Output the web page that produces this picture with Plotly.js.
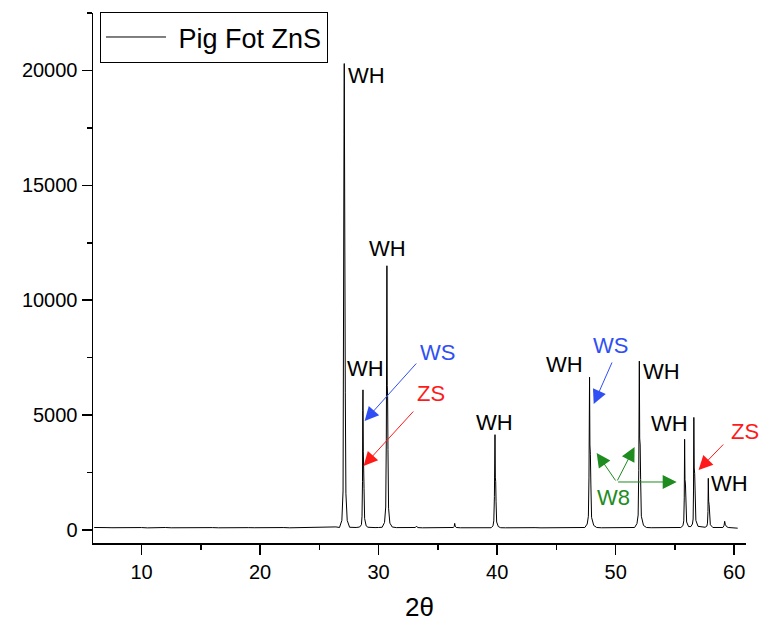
<!DOCTYPE html>
<html>
<head>
<meta charset="utf-8">
<script src="https://cdn.plot.ly/plotly-3.0.1.min.js"></script>
<style>html,body{margin:0;padding:0;background:#fff;}#chart{width:768px;height:627px;}</style>
</head>
<body>
<div id="chart"></div>
<script>
// 2-theta positions (degrees)
const twoTheta = [
  6.0,6.5,7.0,7.5,8.0,8.5,9.0,9.5,10.0,10.5,11.0,11.5,12.0,12.5,13.0,13.5,14.0,14.5,15.0,15.5,
  16.0,16.5,17.0,17.5,18.0,18.5,19.0,19.5,20.0,20.5,21.0,21.5,22.0,22.5,23.0,23.5,24.0,24.5,25.0,25.5,
  26.0,26.4,
  26.7,26.9,27.0,27.05,27.08,27.1,27.13,27.16,27.19,27.24,27.35,27.55,
  27.8,28.1,
  28.4,28.55,28.6,28.64,28.66,28.68,28.71,28.74,28.77,28.82,28.95,29.1,
  29.4,29.7,30.0,
  30.3,30.5,30.6,30.65,30.68,30.7,30.73,30.76,30.79,30.84,30.95,31.15,
  31.5,32.0,32.5,33.1,33.2,33.3,33.7,34.2,34.7,35.2,35.7,36.1,
  36.3,36.38,36.42,36.46,36.55,
  36.9,37.4,37.9,38.4,38.9,39.3,
  39.5,39.65,39.72,39.77,39.8,39.82,39.85,39.88,39.91,39.96,40.1,40.3,
  40.7,41.2,41.7,42.2,42.7,43.2,43.7,44.2,44.7,45.2,45.7,46.2,46.7,47.1,
  47.4,47.6,47.7,47.75,47.78,47.8,47.83,47.87,47.91,47.97,48.15,48.4,
  48.8,49.3,49.8,50.3,50.8,51.2,
  51.6,51.8,51.9,51.95,51.98,52.0,52.03,52.07,52.11,52.17,52.35,52.6,
  53.0,53.5,54.0,54.5,55.0,55.3,
  55.5,55.68,55.75,55.79,55.81,55.82,55.85,55.89,55.93,55.99,56.15,
  56.35,56.48,56.54,56.57,56.59,56.6,56.63,56.67,56.71,56.77,56.95,57.3,
  57.55,57.7,57.75,57.79,57.81,57.82,57.85,57.89,57.93,57.99,58.2,58.6,
  59.05,59.15,59.2,59.25,59.35,59.5,59.8,60.1,60.3
];
// Intensity (counts)
const intensity = [
  110,95,105,100,108,96,104,99,107,94,103,100,109,97,102,95,106,99,104,98,
  105,96,103,99,108,95,104,100,106,97,103,98,107,96,104,100,108,102,110,115,
  120,135,
  110,420,1700,7100,17200,20300,11200,10100,6000,1600,420,120,
  105,110,
  130,230,600,2100,5200,6100,3400,3000,1800,500,180,120,
  100,106,110,
  120,330,1000,4000,9800,11500,6300,5800,3500,950,300,130,
  105,98,104,110,170,105,96,102,95,100,97,104,
  110,150,290,170,110,
  98,103,95,101,97,104,
  100,180,400,1450,3500,4150,2300,2100,1250,350,150,100,
  96,102,94,100,97,103,95,99,96,101,97,103,100,108,
  110,260,600,2300,5600,6650,3700,3300,2000,550,200,110,
  98,102,96,104,99,105,
  110,280,650,2600,6200,7350,4000,3700,2200,600,200,110,
  100,97,103,98,104,110,
  110,190,400,1400,3300,3950,2200,2000,1200,350,150,
  150,260,480,1700,4100,4900,2700,2450,1500,420,160,130,
  120,170,300,800,1900,2250,1250,1100,700,230,110,100,
  110,200,380,250,150,110,90,85,80
];

const peakLabelX = [29.0, 30.76, 28.9, 39.79, 45.7, 53.88, 54.55, 59.6];
const peakLabelY = [19802, 12230, 7008, 4701, 7182, 6877, 4614, 2003];
const peakLabelText = ['WH','WH','WH','WH','WH','WH','WH','WH'];

const FONT = 'Liberation Sans, Arial, sans-serif';
const BLUE = '#2f4ff5';
const RED = '#ff1a1a';
const GREEN = '#1e8c1e';

const annotations = [];
for (let i = 0; i < peakLabelText.length; i++) {
  annotations.push({x: peakLabelX[i], y: peakLabelY[i], xref: 'x', yref: 'y', text: peakLabelText[i],
    showarrow: false, font: {family: FONT, size: 22, color: '#000'}});
}
function label(x, y, t, c) {
  annotations.push({x: x, y: y, xref: 'x', yref: 'y', text: t, showarrow: false,
    font: {family: FONT, size: 22, color: c}});
}
function arrow(hx, hy, tx, ty, c) {
  annotations.push({x: hx, y: hy, xref: 'x', yref: 'y', ax: tx, ay: ty, axref: 'x', ayref: 'y',
    text: '', showarrow: true, arrowhead: 2, arrowsize: 2.8, arrowwidth: 1, arrowcolor: c, standoff: 0, startstandoff: 0});
}
label(34.98, 7704, 'WS', BLUE);
arrow(28.82, 4744, 33.29, 7312, BLUE);
label(34.39, 5963, 'ZS', RED);
arrow(28.73, 2786, 33.04, 5223, RED);
label(49.58, 8009, 'WS', BLUE);
arrow(48.15, 5484, 49.75, 7356, BLUE);
label(60.89, 4266, 'ZS', RED);
arrow(57.0, 2612, 59.2, 3787, RED);
label(49.83, 1437, 'W8', GREEN);
arrow(48.4, 3352, 50.08, 2090, GREEN);
arrow(51.6, 3613, 50.08, 2090, GREEN);
arrow(55.15, 2090, 50.08, 2090, GREEN);

const trace = {
  x: twoTheta, y: intensity, type: 'scatter', mode: 'lines', name: '\u00a0Pig Fot ZnS',
  line: {color: '#000', width: 1}
};

const layout = {
  width: 768, height: 627,
  margin: {l: 93, r: 22, t: 13, b: 84},
  paper_bgcolor: '#fff', plot_bgcolor: '#fff',
  font: {family: FONT, color: '#000', size: 20},
  showlegend: true,
  legend: {x: 0.0107, y: 1.002, xanchor: 'left', yanchor: 'top', bgcolor: '#fff',
    bordercolor: '#000', borderwidth: 1, font: {family: FONT, size: 27, color: '#000'}, itemwidth: 60},
  xaxis: {
    range: [5.9, 61.0], showgrid: false, zeroline: false, showline: true, linecolor: '#000', linewidth: 1.5,
    ticks: 'outside', ticklen: 10, tickwidth: 1.5, tickcolor: '#000', tick0: 0, dtick: 10,
    minor: {ticks: 'outside', ticklen: 5, tickwidth: 1.5, tickcolor: '#000', dtick: 5, tick0: 0, showgrid: false},
    tickfont: {family: FONT, size: 20, color: '#000'},
    title: {text: '2θ', font: {family: FONT, size: 26, color: '#000'}, standoff: 16}
  },
  yaxis: {
    range: [-565, 22500], showgrid: false, zeroline: false, showline: true, linecolor: '#000', linewidth: 1.5,
    ticks: 'outside', ticklen: 10, tickwidth: 1.5, tickcolor: '#000', tick0: 0, dtick: 5000,
    minor: {ticks: 'outside', ticklen: 5, tickwidth: 1.5, tickcolor: '#000', dtick: 2500, tick0: 0, showgrid: false},
    tickfont: {family: FONT, size: 20, color: '#000'}, tickformat: 'd'
  },
  annotations: annotations
};

Plotly.newPlot('chart', [trace], layout, {displayModeBar: false, staticPlot: true});
</script>
</body>
</html>
